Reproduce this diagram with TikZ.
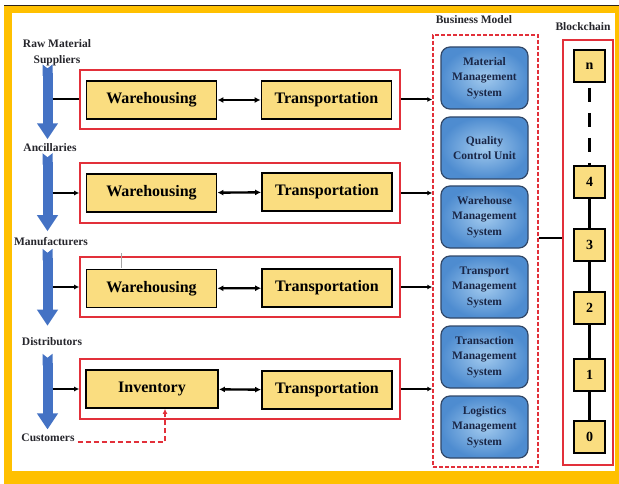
\documentclass[tikz,border=0pt]{standalone}
\usepackage{fontspec}
\setmainfont{Liberation Serif}
\usetikzlibrary{arrows.meta,calc}
\definecolor{frameyellow}{RGB}{255,192,0}
\definecolor{framedark}{RGB}{45,35,25}
\definecolor{boxfill}{RGB}{250,221,128}
\definecolor{groupred}{RGB}{226,48,58}
\definecolor{flowblue}{RGB}{68,114,196}
\definecolor{bmin}{RGB}{162,202,238}
\definecolor{bmout}{RGB}{78,140,208}
\definecolor{bmedge}{RGB}{50,72,104}
\definecolor{bmtext}{RGB}{26,38,70}
\definecolor{labeltext}{RGB}{38,38,44}
\begin{document}
\begin{tikzpicture}[x=1pt,y=-1pt,
  stagebox/.style={draw=black, line width=1.8pt, fill=boxfill, minimum width=130pt,
    minimum height=38pt, inner sep=0pt, font=\fontsize{16}{18}\selectfont\bfseries},
  groupbox/.style={draw=groupred, line width=1.6pt, minimum width=320pt,
    minimum height=59pt, inner sep=0pt},
  sidelabel/.style={font=\fontsize{11.5}{16}\selectfont\bfseries, text=labeltext,
    align=center, inner sep=1pt},
  flow/.style={draw=flowblue, line width=10pt,
    {Triangle Cap[reversed,length=4pt]}-{Triangle[width=20pt,length=16pt]}},
  link/.style={draw=black, line width=2pt},
  linkarrow/.style={link, -{Latex[length=5pt,width=5pt]}},
  twoway/.style={draw=black, line width=2.4pt,
    {Latex[length=6pt,width=6pt]}-{Latex[length=6pt,width=6pt]}},
  modulebox/.style={draw=bmedge, line width=1.2pt, rounded corners=9pt,
    shading=radial, inner color=bmin, outer color=bmout,
    minimum width=87pt, minimum height=62pt,
    inner sep=0pt, align=center, text=bmtext,
    font=\fontsize{11.5}{15.5}\selectfont\bfseries},
  block/.style={draw=black, line width=1.8pt, fill=boxfill, minimum width=31pt,
    minimum height=32pt, inner sep=0pt, font=\fontsize{14}{16}\selectfont\bfseries},
  chainlink/.style={draw=black, line width=2.5pt},
  titlelabel/.style={font=\fontsize{11.5}{14}\selectfont\bfseries, text=labeltext, inner sep=0pt}
]
\useasboundingbox (0,0) rectangle (619,484);

% frame
\fill[white] (0,0) rectangle (619,484);
\fill[frameyellow] (4,6) rectangle (619,484);
\fill[white] (12,13) rectangle (615,471);
\draw[framedark, line width=1.8pt] (4,5.5) -- (619,5.5);

% supply chain stages (left column)
\coordinate (ax) at (47.5,0);
\node[sidelabel] (raw)  at (57,53)  {Raw Material\\Suppliers};
\node[sidelabel] (anc)  at (50,148) {Ancillaries};
\node[sidelabel] (man)  at (51,242) {Manufacturers};
\node[sidelabel] (dist) at (52,342) {Distributors};
\node[sidelabel] (cust) at (48,438) {Customers};

\draw[flow, shorten <=-3pt, shorten >=3.5pt] (raw.south -| ax) -- (anc.north -| ax);
\draw[flow, shorten <=0pt,  shorten >=5.5pt] (anc.south -| ax) -- (man.north -| ax);
\draw[flow, shorten <=1.5pt, shorten >=11pt] (man.south -| ax) -- (dist.north -| ax);
\draw[flow, shorten <=6.5pt, shorten >=3.5pt] (dist.south -| ax) -- (cust.north -| ax);

% process groups
\node[groupbox] (g1) at (240,99.5) {};
\node[groupbox, minimum height=60pt] (g2) at (240,193) {};
\node[groupbox, minimum height=60pt] (g3) at (240,287) {};
\node[groupbox, minimum height=60pt] (g4) at (240,389) {};

\node[stagebox] (w1) at (151.5,100) {Warehousing};
\node[stagebox] (t1) at (326.5,100) {Transportation};
\node[stagebox] (w2) at (151.5,193) {Warehousing};
\node[stagebox] (t2) at (327,192) {Transportation};
\node[stagebox] (w3) at (151.5,288.5) {Warehousing};
\node[stagebox] (t3) at (327,288) {Transportation};
\node[stagebox, minimum width=132pt] (inv) at (152,389) {Inventory};
\node[stagebox] (t4) at (327,390) {Transportation};

\draw[twoway] (w1) -- (t1);
\draw[twoway] (w2) -- (t2);
\draw[twoway] (w3) -- (t3);
\draw[twoway] (inv) -- (t4);

\draw[link, shorten <=5pt] (g1.west -| ax) -- (g1.west);
\draw[linkarrow, shorten <=5pt] (g2.west -| ax) -- (g2.west);
\draw[linkarrow, shorten <=5pt] (g3.west -| ax) -- (g3.west);
\draw[linkarrow, shorten <=5pt] (g4.west -| ax) -- (g4.west);

\draw[gray!70, line width=0.6pt] (121,253) -- (121,268);

% customer feedback
\draw[groupred, line width=1.5pt, dash pattern=on 5pt off 3pt,
  -{Latex[length=5pt,width=5pt]}]
  ($(cust.east)+(2,4)$) -| ($(inv.south)+(13,0)$);

% business model
\node[titlelabel] (bmlabel) at (474,20) {Business Model};
\node[draw=groupred, line width=1.5pt, dash pattern=on 4pt off 2pt,
  minimum width=105pt, minimum height=432pt, inner sep=0pt] (bm) at (485.5,251) {};

\node[modulebox] (m1) at (484.5,78)  {Material\\Management\\System};
\node[modulebox] (m2) at (484.5,148) {Quality\\Control Unit};
\node[modulebox] (m3) at (484.5,217) {Warehouse\\Management\\System};
\node[modulebox] (m4) at (484.5,287) {Transport\\Management\\System};
\node[modulebox] (m5) at (484.5,357) {Transaction\\Management\\System};
\node[modulebox] (m6) at (484.5,427) {Logistics\\Management\\System};

\draw[linkarrow] (g1.east) -- (g1.east -| bm.west);
\draw[linkarrow] (g2.east) -- (g2.east -| bm.west);
\draw[linkarrow] (g3.east) -- (g3.east -| bm.west);
\draw[linkarrow] (g4.east) -- (g4.east -| bm.west);

% blockchain
\node[titlelabel] (bclabel) at (583,27) {Blockchain};
\node[draw=groupred, line width=1.8pt, minimum width=50pt, minimum height=425pt,
  inner sep=0pt] (chain) at (588,252.5) {};

\node[block] (bkn) at (589.5,66)  {n};
\node[block] (bk4) at (589.5,182) {4};
\node[block] (bk3) at (589.5,245) {3};
\node[block] (bk2) at (589.5,308) {2};
\node[block] (bk1) at (589.5,375) {1};
\node[block] (bk0) at (589.5,437) {0};

\draw[chainlink] (bk0) -- (bk1);
\draw[chainlink] (bk1) -- (bk2);
\draw[chainlink] (bk2) -- (bk3);
\draw[chainlink] (bk3) -- (bk4);
\draw[draw=black, line width=3pt, dash pattern=on 14pt off 11pt, dash phase=20pt]
  (bkn) -- (bk4);

\draw[link, line width=2.2pt] (bm.east |- 0,238) -- (chain.west |- 0,238);
\end{tikzpicture}
\end{document}
